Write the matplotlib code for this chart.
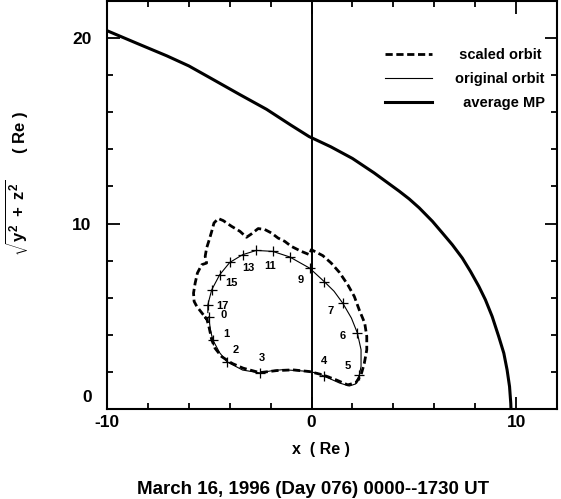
import matplotlib
matplotlib.use("Agg")
import matplotlib.pyplot as plt
from matplotlib.ticker import MultipleLocator, FixedLocator
from matplotlib.transforms import ScaledTranslation
import numpy as np

plt.rcParams['font.family'] = ['Liberation Sans', 'DejaVu Sans']
plt.rcParams['axes.unicode_minus'] = False
plt.rcParams['mathtext.fontset'] = 'custom'
plt.rcParams['mathtext.rm'] = 'Liberation Sans:bold'
plt.rcParams['mathtext.it'] = 'Liberation Sans:bold'
plt.rcParams['mathtext.bf'] = 'Liberation Sans:bold'

# ---- data ----
mp_x = [-10.0, -8.5, -7.07, -6.0, -4.98, -3.5, -2.2, -1.0, -0.12, 0.94, 2.0, 3.06,
        4.28, 4.77, 5.26, 5.91, 6.39, 6.88, 7.37, 7.77, 8.18, 8.5, 8.83, 9.15,
        9.4, 9.56, 9.68, 9.74, 9.75]
mp_y = [20.4, 19.7, 19.04, 18.5, 17.87, 16.95, 16.16, 15.3, 14.69, 14.14, 13.51, 12.73,
        11.75, 11.33, 10.85, 10.12, 9.5, 8.86, 8.14, 7.42, 6.61, 5.89, 4.99, 3.91,
        3.01, 2.11, 1.21, 0.31, 0.0]

orig_x = [-5.02, -4.95, -4.83, -4.49, -4.13, -3.37, -2.54, -1.9, -1.41, -0.44, 0.24, 0.6,
          1.37, 1.85, 2.15, 2.34, 2.42, 2.42, 2.24, 1.95, 1.53, 1.1, 0.63, -0.1,
          -1.07, -1.9, -2.7, -3.37, -4.0, -4.49, -4.88, -5.07, -5.07]
orig_y = [4.97, 4.3, 3.73, 3.03, 2.54, 2.1, 1.95, 2.07, 2.12, 2.05, 1.95, 1.78,
          1.4, 1.24, 1.35, 1.84, 2.3, 3.2, 4.1, 4.9, 5.7, 6.35, 6.86, 7.6,
          8.2, 8.5, 8.55, 8.32, 7.9, 7.24, 6.43, 5.62, 5.2]

hour_x = [-5.02, -4.83, -4.13, -2.54, 0.6, 2.34, 2.24, 1.53, 0.63, -0.1,
          -1.07, -1.9, -2.7, -3.37, -4.0, -4.49, -4.88, -5.07]
hour_y = [4.97, 3.73, 2.54, 1.95, 1.78, 1.84, 4.1, 5.7, 6.86, 7.6,
          8.2, 8.5, 8.55, 8.32, 7.9, 7.24, 6.43, 5.62]
hour_labels = ['0', '1', '2', '3', '4', '5', '6', '7', '', '9', '', '11', '', '13', '', '15', '', '17']

scaled_x = [-5.22, -5.12, -5.0, -4.88, -4.72, -4.4, -3.91, -3.34, -2.53, -1.72, -0.91, -0.1,
            0.55, 1.2, 1.77, 2.17, 2.42, 2.58, 2.7, 2.7, 2.6, 2.33, 2.09, 1.77, 1.36,
            0.96, 0.55, 0.15, -0.01, -0.1, -0.5, -0.99, -1.31, -1.64, -1.96, -2.29, -2.61,
            -2.94, -3.18, -3.5, -3.91, -4.32, -4.56, -4.77, -4.88, -5.0, -5.13, -5.2, -5.13,
            -5.37, -5.58, -5.69, -5.77, -5.74, -5.61, -5.29, -5.12]
scaled_y = [4.97, 4.85, 4.36, 3.73, 3.28, 2.83, 2.47, 2.2, 1.96, 2.07, 2.11, 2.02,
            1.84, 1.57, 1.3, 1.42, 1.84, 2.47, 3.19, 3.91, 4.63, 5.35, 6.07, 6.7, 7.37,
            7.87, 8.27, 8.5, 8.59, 8.32, 8.5, 8.77, 9.04, 9.22, 9.49, 9.68, 9.73,
            9.44, 9.26, 9.58, 9.85, 10.16, 10.27, 10.03, 9.58, 9.13, 8.68, 8.23, 7.87,
            7.78, 7.33, 6.79, 6.25, 5.8, 5.53, 5.08, 4.85]

legend_labels = [' scaled orbit', 'original orbit', '  average MP']
x_major = [-10, 0, 10]
y_major = [0, 10, 20]

# ---- figure ----
fig = plt.figure(figsize=(5.61, 4.99), dpi=100)
ax = fig.add_axes([107/561, (499-409)/499, 450/561, 408/499])
ax.set_xlim(-10, 12)
ax.set_ylim(0, 22)

ax.plot(scaled_x, scaled_y, color='black', lw=2.0, linestyle=(0, (2.6, 1.3)),
        label=legend_labels[0])
ax.plot(orig_x, orig_y, color='black', lw=0.8, label=legend_labels[1])
ax.plot(mp_x, mp_y, color='black', lw=2.2, label=legend_labels[2])
ax.axvline(0, color='black', lw=1.4)

ax.plot(hour_x, hour_y, linestyle='none', marker='+', ms=7, mew=0.9, color='black')

# hour labels placed along the inward normal of the orbit
fig.canvas.draw()
T = ax.transData
pts = T.transform(np.column_stack([hour_x, hour_y]))
n = len(pts)
for i, lab in enumerate(hour_labels):
    if not lab:
        continue
    t = pts[(i + 1) % n] - pts[(i - 1) % n]
    nrm = np.array([-t[1], t[0]])
    nrm = nrm / np.hypot(*nrm) * 10.5
    ax.annotate(lab, (hour_x[i], hour_y[i]), xytext=(nrm[0], nrm[1]),
                textcoords='offset points', ha='center', va='center',
                fontsize=8, fontweight='bold')

# ticks
ax.xaxis.set_major_locator(FixedLocator(x_major))
ax.yaxis.set_major_locator(FixedLocator(y_major))
ax.xaxis.set_minor_locator(MultipleLocator(2))
ax.yaxis.set_minor_locator(MultipleLocator(2))
ax.tick_params(which='both', direction='in', top=True, right=True, width=1.3)
ax.tick_params(which='major', length=9, labelsize=12.5)
ax.tick_params(axis='x', which='major', pad=4)
ax.tick_params(axis='y', which='major', pad=11)
ax.tick_params(which='minor', length=4.5)
for sp in ax.spines.values():
    sp.set_linewidth(1.5)

fig.canvas.draw()
for lab in ax.get_xticklabels() + ax.get_yticklabels():
    lab.set_fontweight('bold')
for tick in ax.yaxis.get_major_ticks():
    if tick.get_loc() == 0:
        tick.label1.set_transform(tick.label1.get_transform() +
                                  ScaledTranslation(0, 9/72, fig.dpi_scale_trans))

ax.set_xlabel('x  ( Re )', fontsize=11.5, fontweight='bold')
ax.xaxis.set_label_coords((321-107)/450, (409-442)/408)

fig.text(17/561, 1 - 183/499, r'$\sqrt{y^{2}\ +\ z^{2}}$      ( Re )',
         rotation=90, ha='center', va='center', fontsize=12, fontweight='bold')

leg = ax.legend(loc='upper left', bbox_to_anchor=((385-107)/450, (409-48)/408),
                frameon=False, handlelength=3.2, handletextpad=1.6,
                labelspacing=0.7, borderpad=0, borderaxespad=0,
                prop={'weight': 'bold', 'size': 10.5})

fig.text(313.5/561, 1 - 489/499, 'March 16, 1996 (Day 076) 0000--1730 UT',
         ha='center', va='center', fontsize=13.5, fontweight='bold')

fig.savefig('out.png', dpi=100)
